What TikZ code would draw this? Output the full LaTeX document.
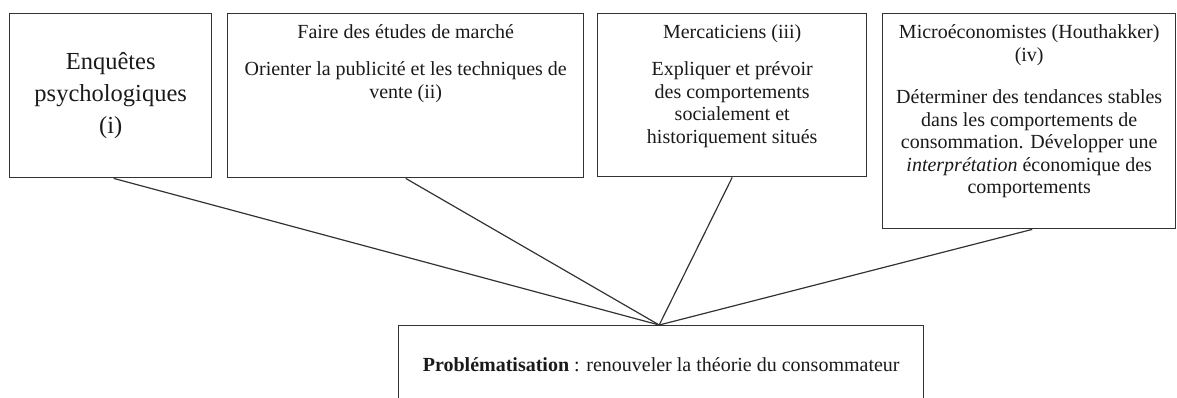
\documentclass[tikz,border=0pt]{standalone}
\usepackage{fontspec}
\setmainfont{Liberation Serif}
\definecolor{linegray}{HTML}{333333}
\definecolor{textgray}{HTML}{1A1A1A}
\tikzset{
  boxnode/.style={draw=linegray, line width=1.4pt, inner sep=0pt, anchor=north west, text=textgray},
  link/.style={draw=linegray, line width=1.2pt},
}
\newcommand{\topbox}[4]{\parbox[t][#2][t]{#1}{\centering\fontsize{20pt}{22.5pt}\selectfont\vspace*{#3}#4}}
\begin{document}
\begin{tikzpicture}[x=1pt,y=-1pt]
\useasboundingbox (0,0) rectangle (1177,398);
\clip (0,0) rectangle (1177,398);
\node[boxnode] (b1) at (9,13) {\parbox[c][164pt][c]{202pt}{\centering\fontsize{24.5pt}{32pt}\selectfont Enquêtes\\ psychologiques\\ (i)}};
\node[boxnode] (b2) at (227,13) {\topbox{356pt}{164pt}{11pt}{Faire des études de marché\\[14.5pt] Orienter la publicité et les techniques de\\ vente (ii)}};
\node[boxnode] (b3) at (597,13) {\topbox{269pt}{163pt}{11pt}{Mercaticiens (iii)\\[14.5pt] Expliquer et prévoir\\ des comportements\\ socialement et\\ historiquement situés}};
\node[boxnode] (b4) at (882,13) {\topbox{293pt}{215pt}{11pt}{Microéconomistes (Houthakker)\\ (iv)\\[20pt] Déterminer des tendances stables\\ dans les comportements de\\ consommation. Développer une\\ \textit{interprétation} économique des\\ comportements}};
\node[boxnode] (p) at (398,325) {\topbox{525pt}{110pt}{32pt}{\textbf{Problématisation} : renouveler la théorie du consommateur}};
\draw[link] ([xshift=3pt]b1.south) -- ([xshift=-2pt]p.north);
\draw[link] (b2.south) -- ([xshift=-2pt]p.north);
\draw[link] (b3.south) -- ([xshift=-2pt]p.north);
\draw[link] ([xshift=3pt]b4.south) -- ([xshift=-2pt]p.north);
\end{tikzpicture}
\end{document}
